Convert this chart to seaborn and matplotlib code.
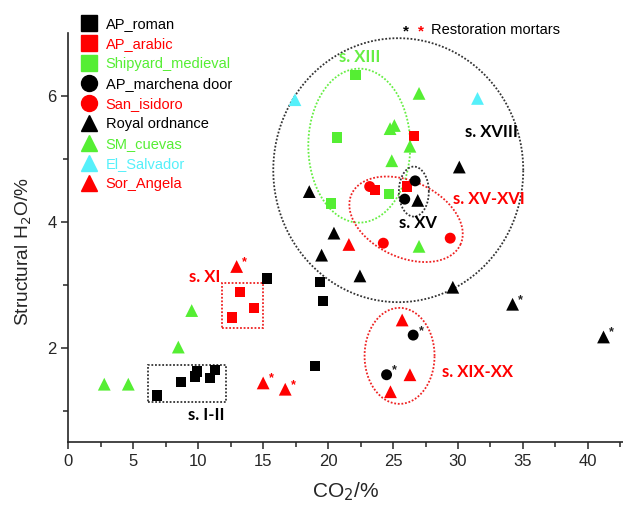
import numpy as np
import pandas as pd
import matplotlib
matplotlib.use("Agg")
import matplotlib.pyplot as plt
from matplotlib.lines import Line2D
from matplotlib.patches import Rectangle
import seaborn as sns

sns.set_style("ticks")
plt.rcParams['font.family'] = ['Liberation Sans', 'DejaVu Sans']

# CO2 (%) and structural H2O (%) for each group of mortars
ap_roman_co2 = [6.85, 8.68, 9.75, 9.9, 10.9, 11.3, 15.3, 19.4, 19.6, 19.0]
ap_roman_h2o = [1.24, 1.45, 1.54, 1.62, 1.52, 1.65, 3.10, 3.04, 2.74, 1.71]

ap_arabic_co2 = [13.2, 14.3, 12.6, 26.6, 26.1, 23.6]
ap_arabic_h2o = [2.89, 2.63, 2.48, 5.36, 4.56, 4.50]

shipyard_co2 = [22.1, 20.7, 24.7, 20.2]
shipyard_h2o = [6.33, 5.34, 4.44, 4.29]

marchena_co2 = [26.7, 25.9, 26.55, 24.5]
marchena_h2o = [4.65, 4.36, 2.20, 1.57]

isidoro_co2 = [23.2, 24.25, 29.4]
isidoro_h2o = [4.56, 3.66, 3.74]

ordnance_co2 = [18.55, 26.9, 30.1, 20.45, 19.5, 22.45, 29.6, 34.2, 41.2]
ordnance_h2o = [4.48, 4.34, 4.87, 3.82, 3.47, 3.14, 2.96, 2.69, 2.17]

cuevas_co2 = [27.0, 24.77, 25.1, 26.3, 24.9, 27.0, 9.5, 8.47, 2.77, 4.62]
cuevas_h2o = [6.04, 5.48, 5.53, 5.20, 4.97, 3.61, 2.59, 2.01, 1.42, 1.42]

salvador_co2 = [17.45, 31.5]
salvador_h2o = [5.94, 5.96]

angela_co2 = [21.6, 25.7, 26.3, 24.8, 12.96, 15.0, 16.7]
angela_h2o = [3.64, 2.44, 1.57, 1.30, 3.29, 1.44, 1.34]

# restoration mortars (marked with *)
star_co2 = [12.96, 15.0, 16.7, 34.2, 41.2, 26.55, 24.5]
star_h2o = [3.29, 1.44, 1.34, 2.69, 2.17, 2.20, 1.57]
star_col = ["red", "red", "red", "#222222", "#222222", "#222222", "#222222"]

names = ["AP_roman", "AP_arabic", "Shipyard_medieval", "AP_marchena door",
         "San_isidoro", "Royal ordnance", "SM_cuevas", "El_Salvador", "Sor_Angela"]
xs = [ap_roman_co2, ap_arabic_co2, shipyard_co2, marchena_co2, isidoro_co2,
      ordnance_co2, cuevas_co2, salvador_co2, angela_co2]
ys = [ap_roman_h2o, ap_arabic_h2o, shipyard_h2o, marchena_h2o, isidoro_h2o,
      ordnance_h2o, cuevas_h2o, salvador_h2o, angela_h2o]

BLACK, RED, GREEN, CYAN = "#000000", "#FF0000", "#55EE33", "#55F0FA"
colors = [BLACK, RED, GREEN, BLACK, RED, BLACK, GREEN, CYAN, RED]
markers = ["s", "s", "s", "o", "o", "^", "^", "^", "^"]
msize = {"s": 55, "o": 62, "^": 85}

df = pd.concat(
    [pd.DataFrame({"CO2": x, "H2O": y, "site": n}) for n, x, y in zip(names, xs, ys)],
    ignore_index=True,
)

fig = plt.figure(figsize=(6.23, 5.07), dpi=100)
ax = fig.add_axes([0.1096, 0.128, 0.8904, 0.807])
ax.set_xlim(0, 42.7)
ax.set_ylim(0.5, 7.0)

sns.scatterplot(
    data=df, x="CO2", y="H2O", hue="site", style="site", size="site",
    hue_order=names, palette=dict(zip(names, colors)),
    markers=dict(zip(names, markers)),
    sizes={n: msize[m] for n, m in zip(names, markers)},
    linewidth=0, legend=False, ax=ax, zorder=3,
)

for x, y, c in zip(star_co2, star_h2o, star_col):
    ax.annotate("*", (x, y), xytext=(4, 1), textcoords="offset points",
                color=c, fontsize=9, fontweight="bold", zorder=4)

# pixel scale of the data axes, used to draw the group outlines
ppx = ax.bbox.width / 42.7
ppy = ax.bbox.height / 6.5


def dotted_ellipse(cx, cy, a_px, b_px, angle, color):
    t = np.linspace(0, 2 * np.pi, 400)
    th = np.deg2rad(angle)
    u, v = a_px * np.cos(t), b_px * np.sin(t)
    xr = u * np.cos(th) - v * np.sin(th)
    yr = u * np.sin(th) + v * np.cos(th)
    ax.plot(cx + xr / ppx, cy + yr / ppy, color=color, lw=1.3,
            linestyle=(0, (1, 1)), zorder=2)


dotted_ellipse(25.4, 4.82, 125, 132, 0, "#333333")     # s. XVIII
dotted_ellipse(22.4, 5.21, 51, 77, 0, "#66EE44")       # s. XIII
dotted_ellipse(26.0, 4.04, 60, 38, -25, "#EE2222")     # s. XV-XVI
dotted_ellipse(26.6, 4.48, 15, 25, 0, "#333333")       # s. XV
dotted_ellipse(25.5, 1.87, 35, 48, 0, "#EE2222")       # s. XIX-XX

ax.add_patch(Rectangle((11.8, 2.32), 3.17, 0.71, fill=False, ec="#EE2222",
                       lw=1.3, ls=(0, (1, 1)), zorder=2))
ax.add_patch(Rectangle((6.16, 1.13), 5.96, 0.60, fill=False, ec="#333333",
                       lw=1.3, ls=(0, (1, 1)), zorder=2))

lab = dict(family="Lato", fontweight="bold", fontsize=12, ha="center", va="center")
ax.text(22.45, 6.62, "s. XIII", color="#66EE44", **lab)
ax.text(32.6, 5.42, "s. XVIII", color="black", **lab)
ax.text(32.4, 4.36, "s. XV-XVI", color="red", **lab)
ax.text(26.9, 3.98, "s. XV", color="black", **lab)
ax.text(10.5, 3.13, "s. XI", color="red", **lab)
ax.text(10.65, 0.93, "s. I-II", color="black", **lab)
ax.text(31.5, 1.61, "s. XIX-XX", color="red", **lab)

ax.set_xticks(np.arange(0, 45, 5))
ax.set_xticks(np.arange(2.5, 43, 5), minor=True)
ax.set_yticks([2, 4, 6])
ax.set_yticks([1, 3, 5], minor=True)
ax.tick_params(which="major", length=5, width=1.1, labelsize=12, direction="out")
ax.tick_params(which="minor", length=3.5, width=1.1, direction="out")
for s in ["top", "right"]:
    ax.spines[s].set_visible(False)
for s in ["left", "bottom"]:
    ax.spines[s].set_linewidth(1.2)

ax.set_xlabel("CO$_2$/%", fontsize=15, labelpad=8)
ax.set_ylabel("Structural H$_2$O/%", fontsize=13.8)
ax.yaxis.set_label_coords(-0.062, 0.465)

handles = [Line2D([], [], marker=m, color=c, linestyle="none",
                  markersize=12 if m == "^" else 11.5)
           for m, c in zip(markers, colors)]
fig.legend(handles, names, loc="upper left", bbox_to_anchor=(80 / 623, 1 - 17 / 507),
           frameon=False, fontsize=10.5, labelcolor=colors, handlelength=1.2,
           handletextpad=0.55, labelspacing=0.41, borderpad=0, borderaxespad=0)

fig.text(406 / 623, 1 - 31 / 507, "*", color="black", fontsize=11, fontweight="bold",
         ha="center", va="center")
fig.text(421 / 623, 1 - 31 / 507, "*", color="red", fontsize=11, fontweight="bold",
         ha="center", va="center")
fig.text(431 / 623, 1 - 30 / 507, "Restoration mortars", color="black",
         fontsize=10.5, ha="left", va="center")

fig.savefig("out.png", dpi=100)
